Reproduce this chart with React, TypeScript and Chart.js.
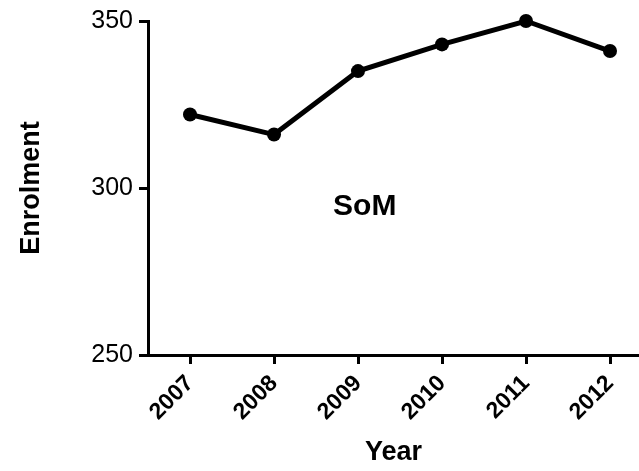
import React, { useEffect, useRef } from "react";
import { Chart, registerables } from "chart.js";

Chart.register(...registerables);

const years = [2007, 2008, 2009, 2010, 2011, 2012];
const enrolment = [322, 316, 335, 343, 350, 341];
const yTicks = [250, 300, 350];
const xTitle = "Year";
const yTitle = "Enrolment";
const chartLabel = "SoM";
const labelAt = { x: 2009.08, y: 294.3 };

const FONT = "'Liberation Sans', Arial, Helvetica, sans-serif";

const labelPlugin = {
  id: "somLabel",
  afterDatasetsDraw(chart: any) {
    const { ctx, scales } = chart;
    const px = scales.x.getPixelForValue(labelAt.x);
    const py = scales.y.getPixelForValue(labelAt.y);
    ctx.save();
    ctx.font = `bold 30px ${FONT}`;
    ctx.fillStyle = "#000";
    ctx.textAlign = "center";
    ctx.textBaseline = "middle";
    ctx.fillText(chartLabel, px, py);
    ctx.restore();
  },
};

export default function App() {
  const ref = useRef<HTMLCanvasElement | null>(null);

  useEffect(() => {
    document.body.style.margin = "0";
    const canvas = ref.current;
    if (!canvas) return;
    const chart = new Chart(canvas, {
      type: "line",
      data: {
        datasets: [
          {
            data: years.map((x, i) => ({ x, y: enrolment[i] })),
            borderColor: "#000",
            backgroundColor: "#000",
            borderWidth: 5,
            pointRadius: 7,
            pointHoverRadius: 7,
            pointBackgroundColor: "#000",
            pointBorderColor: "#000",
            pointBorderWidth: 0,
            tension: 0,
            clip: false as any,
          },
        ],
      },
      options: {
        animation: false,
        responsive: false,
        devicePixelRatio: 1,
        layout: { padding: { top: 19, left: 0, right: 0, bottom: 0 } },
        plugins: {
          legend: { display: false },
          tooltip: { enabled: false },
        },
        scales: {
          x: {
            type: "linear",
            min: 2006.5,
            max: 2012.345,
            afterBuildTicks: (scale: any) => {
              scale.ticks = years.map((v) => ({ value: v }));
            },
            afterFit: (scale: any) => {
              scale.height = 116;
              scale.paddingLeft = 0;
              scale.paddingRight = 0;
            },
            grid: {
              drawOnChartArea: false,
              drawTicks: true,
              tickLength: 9,
              color: "#000",
              lineWidth: 3,
            },
            border: { display: true, color: "#000", width: 3 },
            ticks: {
              autoSkip: false,
              minRotation: 45,
              maxRotation: 45,
              padding: 6,
              color: "#000",
              font: { family: FONT, size: 23, weight: "bold" },
              callback: (v: any) => String(v),
            },
            title: {
              display: true,
              text: xTitle,
              color: "#000",
              font: { family: FONT, size: 27, weight: "bold" },
              padding: { top: 0, bottom: 2 },
            },
          },
          y: {
            type: "linear",
            min: 250,
            max: 350,
            afterBuildTicks: (scale: any) => {
              scale.ticks = yTicks.map((v) => ({ value: v }));
            },
            afterFit: (scale: any) => {
              scale.width = 148;
            },
            grid: {
              drawOnChartArea: false,
              drawTicks: true,
              tickLength: 9,
              color: "#000",
              lineWidth: 3,
            },
            border: { display: true, color: "#000", width: 3 },
            ticks: {
              padding: 6,
              color: "#000",
              font: { family: FONT, size: 25 },
              callback: (v: any) => String(v),
            },
            title: {
              display: true,
              text: yTitle,
              color: "#000",
              font: { family: FONT, size: 27, weight: "bold" },
              padding: { top: 15, bottom: 0 },
            },
          },
        },
      },
      plugins: [labelPlugin],
    });
    // let the plot area reach the canvas' right edge (no extra room reserved for point overflow)
    const meta: any = chart.getDatasetMeta(0);
    if (meta && meta.controller) {
      meta.controller.getMaxOverflow = () => 0;
      chart.update();
    }
    return () => chart.destroy();
  }, []);

  return (
    <div style={{ width: 639, height: 471 }}>
      <canvas ref={ref} width={639} height={471} style={{ display: "block" }} />
    </div>
  );
}
